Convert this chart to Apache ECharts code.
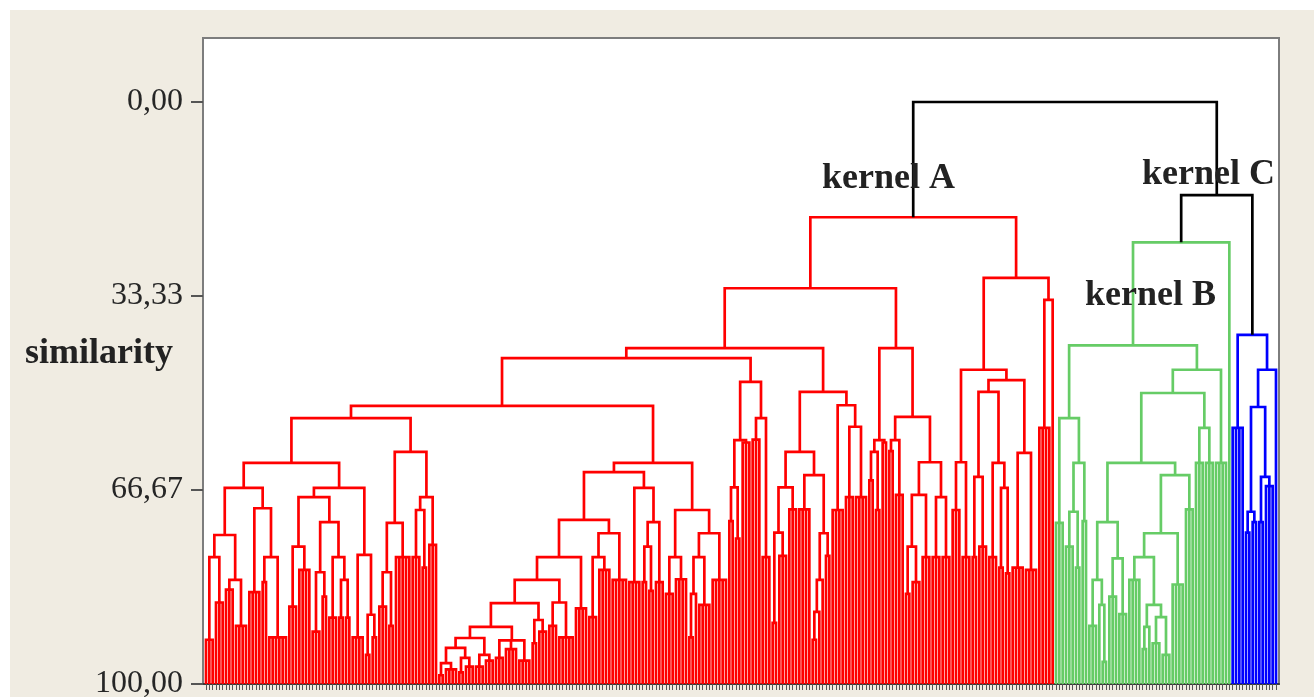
<!DOCTYPE html>
<html>
<head>
<meta charset="utf-8">
<script src="https://cdn.jsdelivr.net/npm/echarts@6/dist/echarts.min.js"></script>
<style>
  html, body { margin: 0; padding: 0; background: #ffffff; }
  #bg { position: absolute; left: 10px; top: 10px; width: 1304px; height: 687px; background: #f0ece2; }
  #chart { position: absolute; left: 0; top: 0; width: 1314px; height: 697px; }
</style>
</head>
<body>
<div id="bg"></div>
<div id="chart"></div>
<script>
// ---- data: dendrogram merges as [similarity, child, child, ...]; a leaf is 0 ----
const Y_TICKS = [0, 33.333333, 66.666667, 100];
const AXIS_TITLE = 'similarity';
const KERNEL_NAMES = ['kernel A', 'kernel B', 'kernel C'];

const Q1A_A = [74.4, [78.2, [92.4,0,0,0], [86,0,0,0]], [82.1, [83.8,0,0,0], [90,0,0,0,0]]];
const Q1A_B = [69.8, [84.2,0,0,0,0], [78.2, [82.5,0,0], [92,0,0,0,0,0,0]]];
const Q1B = [66.3, [67.9, [76.4, [86.7,0,0,0], [80.4,0,0,0,0]],
                          [72.2, [80.8, [91,0,0,0], [85,0,0]], [78.2, [88.6,0,0,0], [82.1, [88.6,0,0], [88.6,0,0]]]]],
                   [77.8, [92,0,0,0,0], [88.1, [95,0,0], [92,0,0]]]];
const Q2 = [60.1, [72.3, [80.8, [86.7,0,0,0], [90,0,0]], [78.2,0,0,0,0,0]],
                  [67.9, [70.1, [78.2,0,0,0], [80,0,0]], [76.1,0,0,0]]];
const P1 = [54.3, [62.0, [66.3, Q1A_A, Q1A_B], Q1B], Q2];

const S1 = [96.4, [98.5,0,0], [97.5,0,0,0,0]];
const S2 = [93.8, S1, [95.5, [98,0,0], [97,0,0,0]]];
const S3 = [92.1, S2, [95, [97,0,0,0], [96,0,0,0]]];
const S4 = [90.2, S3, [92.5, [95.5,0,0,0], [94,0,0,0,0], [96,0,0,0,0]]];
const S5 = [86.1, S4, [89, [93,0,0], [91,0,0,0]]];
const S6 = [82.1, S5, [86, [90,0,0,0], [92,0,0,0,0,0]]];
const S7 = [78.2, S6, [87,0,0,0,0]];
const S8 = [71.8, S7, [74.1, [78.2, [88.5,0,0,0], [80.4,0,0,0,0]], [82.1,0,0,0,0,0]]];
const R9 = [66.3, [82.5,0,0,0,0], [72.2, [76.4, [82.5,0,0], [84,0,0]], [82.5,0,0,0]]];
const P2B = [70.1, [78.2, [84.5,0,0,0], [82,0,0,0,0]],
                   [74.1, [78.2, [84.5, [92,0,0], 0], [86.4,0,0,0,0]], [82.1,0,0,0,0,0]]];
const P2 = [62.0, [63.6, S8, R9], P2B];

const A1112 = [48.1, [58.1, [66.2, [72,0,0], [75,0,0]], [58.5,0,0,0]], [54.3, [58,0,0,0], [78.2,0,0,0]]];
const A112 = [49.8, [60.1, [66.2, [74, [89.5,0,0], [78,0,0,0]], [70,0,0,0]],
                           [64.1, [70,0,0,0,0], [74.1, [82.1, [87.6, [92.4,0,0], 0], 0], [78,0,0]]]],
                    [52.1, [70.1,0,0,0,0], [55.8, [67.9,0,0,0], [67.9,0,0,0,0]]]];
const A12 = [42.3, [58.1, [60.1, [65,0,0], [70.1,0,0]], [58.5,0,0]],
                   [54.1, [58.1, [60,0,0], [67.5,0,0,0]],
                          [61.9, [67.5, [76.4, [84.5,0,0], [82.5,0,0,0]], [78.2,0,0,0]], [67.9, [78.2,0,0,0], [78.2,0,0,0]]]]];
const A2 = [30.2, [46.0, [61.9, [70.1,0,0,0], [78.2,0,0,0]],
                         [47.8, [49.8, [64.4, [78.2,0,0], [76.4,0,0,0]], [62.0, [78.2,0,0,0], [66.3, [80,0,0], [81,0,0]]]],
                                [60.3, [80,0,0,0,0], [80.4,0,0,0,0]]]],
                  [34.0, [56.0,0,0,0,0], 0]];
const KERNEL_A = [19.8, [32.0, [42.3, [44.0, [52.2, P1, P2], A1112], A112], A12], A2];

const B_L = [54.3, [72.3,0,0,0], [62.0, [70.4, [76.4,0,0,0], [80,0,0]], [72,0,0]]];
const B_A = [72.2, [82.1, [90,0,0,0], [86.4, 0, [96.2,0,0]]], [78.4, [85,0,0,0], [88,0,0,0]]];
const B_B = [64.1, [74.1, [78.2, [82.1,0,0,0,0], [86.4, [90.2, [94,0,0], 0], [88.5, [93,0,0,0], [95,0,0,0]]]], [82.9,0,0,0,0]], [70,0,0,0]];
const B_C = [56.0, [62.0,0,0,0], [62.0,0,0,0]];
const B_R = [46.0, [50.0, [62.0, B_A, B_B], B_C], [62.0,0,0,0,0]];
const KERNEL_B = [24.1, [41.8, B_L, B_R], 0];

const KERNEL_C = [40.0, [56.0,0,0,0,0], [46.0, [52.4, [70.4, [74,0,0], [72.2,0,0]], [64.4, [72.2,0,0], [66,0,0,0]]], 0]];

const BC_LEVEL = 16.0;
const ROOT_LEVEL = 0.0;
const COLORS = { a: '#ff0000', b: '#66cc66', c: '#0000ff', top: '#000000' };

// ---- layout: leaf order gives x, merge level gives y ----
let leafCount = 0;
const segs = [];
function emitU(h, kids, color) {
  const a = kids[0], b = kids[kids.length - 1];
  segs.push({ coords: [[a.x, a.h], [a.x, h], [b.x, h], [b.x, b.h]], lineStyle: { color } });
  for (let i = 1; i < kids.length - 1; i++) {
    segs.push({ coords: [[kids[i].x, kids[i].h], [kids[i].x, h]], lineStyle: { color } });
  }
  return { x: (a.x + b.x) / 2, h };
}
function build(node, color) {
  if (node === 0) return { x: leafCount++, h: 100 };
  const kids = node.slice(1).map(k => build(k, color));
  return emitU(node[0], kids, color);
}
const nA = build(KERNEL_A, COLORS.a);
const nB = build(KERNEL_B, COLORS.b);
const nC = build(KERNEL_C, COLORS.c);
const nBC = emitU(BC_LEVEL, [nB, nC], COLORS.top);
emitU(ROOT_LEVEL, [nA, nBC], COLORS.top);

const leafIdx = [];
for (let i = 0; i < leafCount; i++) leafIdx.push(i);

const chart = echarts.init(document.getElementById('chart'), null, { renderer: 'canvas' });
const serif = '"Liberation Serif", "Times New Roman", serif';
chart.setOption({
  backgroundColor: 'transparent',
  animation: false,
  grid: {
    left: 203, top: 38, right: 35, bottom: 13,
    show: true, backgroundColor: '#ffffff', borderColor: '#7d7d7d', borderWidth: 2,
    outerBoundsMode: 'none', containLabel: false
  },
  xAxis: {
    type: 'value', min: -0.9, max: leafCount - 1 + 0.9,
    axisLine: { show: true, onZero: false, lineStyle: { color: '#3a3a3a', width: 2 } },
    axisTick: { show: true, customValues: leafIdx, length: 6, lineStyle: { color: '#555', width: 1 } },
    axisLabel: { show: false },
    splitLine: { show: false }
  },
  yAxis: {
    type: 'value', inverse: true, min: -11, max: 100,
    axisLine: { show: true, onZero: false, lineStyle: { color: '#7d7d7d', width: 2 } },
    axisTick: { show: true, customValues: Y_TICKS, length: 12, lineStyle: { color: '#555', width: 2 } },
    axisLabel: {
      show: true, customValues: Y_TICKS, margin: 20,
      fontFamily: 'Liberation Serif', fontSize: 32, color: '#262626',
      formatter: v => v.toFixed(2).replace('.', ',')
    },
    splitLine: { show: false }
  },
  graphic: [
    { type: 'text', x: 173, y: 354, z: 100,
      style: { text: AXIS_TITLE, font: 'bold 36px ' + serif, fill: '#222', align: 'right', verticalAlign: 'middle', textAlign: 'right', textVerticalAlign: 'middle' } },
    { type: 'text', x: 822, y: 179, z: 100,
      style: { text: KERNEL_NAMES[0], font: 'bold 36px ' + serif, fill: '#222', align: 'left', verticalAlign: 'middle', textAlign: 'left', textVerticalAlign: 'middle' } },
    { type: 'text', x: 1085, y: 296, z: 100,
      style: { text: KERNEL_NAMES[1], font: 'bold 36px ' + serif, fill: '#222', align: 'left', verticalAlign: 'middle', textAlign: 'left', textVerticalAlign: 'middle' } },
    { type: 'text', x: 1142, y: 175, z: 100,
      style: { text: KERNEL_NAMES[2], font: 'bold 36px ' + serif, fill: '#222', align: 'left', verticalAlign: 'middle', textAlign: 'left', textVerticalAlign: 'middle' } }
  ],
  series: [{
    type: 'lines', coordinateSystem: 'cartesian2d', polyline: true, silent: true,
    lineStyle: { width: 2.7, opacity: 1, join: 'miter', cap: 'butt' },
    data: segs, z: 3
  }]
});
</script>
</body>
</html>
